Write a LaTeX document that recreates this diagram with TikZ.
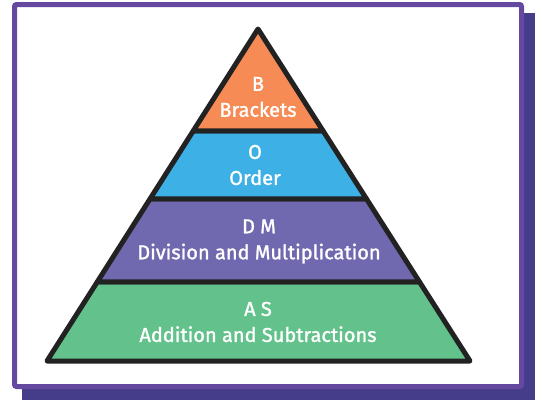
\documentclass[tikz,border=0pt]{standalone}
\usepackage{fontspec}
\setmainfont{Fira Sans}
\newfontfamily\labelfont[FakeBold=1.3]{Fira Sans}
\usetikzlibrary{calc}
\definecolor{cardedge}{HTML}{6548A0}
\definecolor{cardshadow}{HTML}{453D8A}
\definecolor{bandB}{HTML}{F68B55}
\definecolor{bandO}{HTML}{3DB0E5}
\definecolor{bandDM}{HTML}{7169B0}
\definecolor{bandAS}{HTML}{63C28C}
\definecolor{inkline}{HTML}{222222}
\tikzset{
  band/.style={draw=inkline, line width=5pt, line join=round},
  label/.style={text=white, align=center, font=\labelfont\fontsize{20}{26}\selectfont}
}
\begin{document}
\begin{tikzpicture}[x=1pt, y=-1pt]
  \useasboundingbox (0,0) rectangle (542,400);
  % card with its shadow
  \fill[cardshadow] (22,13) rectangle (535,400);
  \draw[cardedge, fill=white, line width=5pt, rounded corners=2pt] (14.5,4.5) rectangle (521.5,386.5);
  % pyramid corners and band boundaries
  \coordinate (apex) at (258,29);
  \coordinate (bl) at (47,361);
  \coordinate (br) at (470,361);
  \coordinate (l1) at ($(apex)!0.3072!(bl)$);
  \coordinate (r1) at ($(apex)!0.3072!(br)$);
  \coordinate (l2) at ($(apex)!0.512!(bl)$);
  \coordinate (r2) at ($(apex)!0.512!(br)$);
  \coordinate (l3) at ($(apex)!0.762!(bl)$);
  \coordinate (r3) at ($(apex)!0.762!(br)$);
  % bands
  \draw[band, fill=bandAS] (l3) -- (r3) -- (br) -- (bl) -- cycle;
  \draw[band, fill=bandDM] (l2) -- (r2) -- (r3) -- (l3) -- cycle;
  \draw[band, fill=bandO] (l1) -- (r1) -- (r2) -- (l2) -- cycle;
  \draw[band, fill=bandB] (apex) -- (r1) -- (l1) -- cycle;
  % labels
  \node[label] (tB) at (258,97) {B\\Brackets};
  \node[label] (tO) at (255,165) {O\\Order};
  \node[label] (tDM) at (259,241.5) {D M\\Division and Multiplication};
  \node[label] (tAS) at (258,322) {A S\\Addition and Subtractions};
\end{tikzpicture}
\end{document}
